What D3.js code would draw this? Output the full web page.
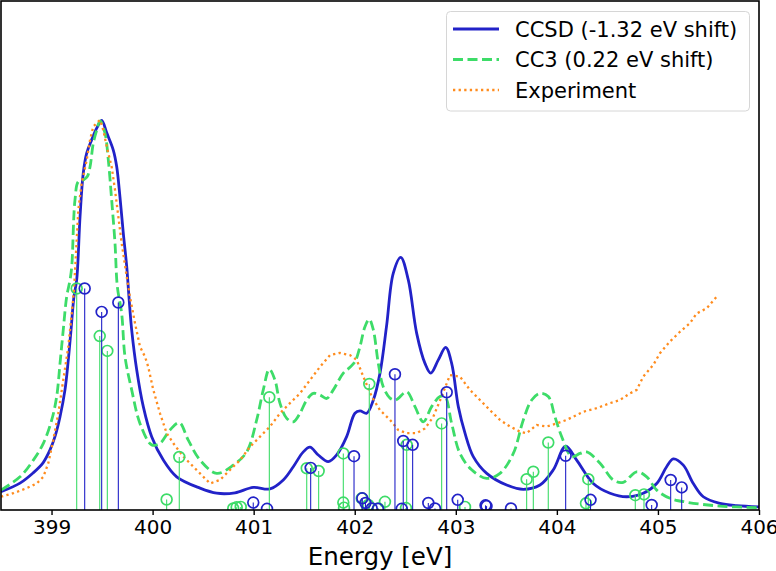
<!DOCTYPE html>
<html><head><meta charset="utf-8">
<script src="https://cdn.jsdelivr.net/npm/d3@7"></script>
<style>
html,body{margin:0;padding:0;background:#fff;}
svg{display:block;font-family:"DejaVu Sans",sans-serif;}
</style></head>
<body><svg id="c" width="776" height="571"></svg>
<script>
// ---- data (energy in eV, intensity arbitrary) ----
const xTicks = [399, 400, 401, 402, 403, 404, 405, 406];
const xLabel = "Energy [eV]";
const seriesNames = ["CCSD (-1.32 eV shift)", "CC3 (0.22 eV shift)", "Experiment"];

const ccsdE = [398.500,398.688,398.817,398.916,398.985,399.034,399.084,399.133,399.163,399.193,399.222,399.249,399.282,399.314,399.348,399.397,399.447,399.496,399.546,399.611,399.645,399.677,399.710,399.744,399.766,399.793,399.843,399.908,399.991,400.106,400.238,400.469,400.634,400.815,400.996,401.161,401.293,401.392,401.491,401.557,401.639,401.738,401.821,401.920,402.002,402.052,402.118,402.184,402.250,402.316,402.381,402.455,402.530,402.613,402.695,402.752,402.827,402.900,402.959,403.025,403.091,403.173,403.306,403.503,403.668,403.833,403.965,404.087,404.196,404.360,404.526,404.691,404.855,404.988,405.086,405.152,405.251,405.350,405.449,405.614,405.779,406.000];
const ccsdI = [0.047,0.069,0.095,0.121,0.154,0.188,0.239,0.308,0.377,0.462,0.547,0.590,0.752,0.864,0.915,0.949,0.979,0.999,0.967,0.923,0.880,0.803,0.710,0.624,0.547,0.462,0.359,0.265,0.188,0.128,0.085,0.056,0.043,0.044,0.058,0.054,0.077,0.111,0.149,0.161,0.141,0.124,0.141,0.188,0.248,0.254,0.248,0.282,0.351,0.474,0.607,0.648,0.590,0.453,0.376,0.351,0.385,0.417,0.376,0.265,0.197,0.137,0.094,0.064,0.053,0.064,0.103,0.164,0.128,0.068,0.043,0.034,0.043,0.068,0.111,0.131,0.115,0.068,0.034,0.017,0.011,0.008];

const cc3E = [398.500,398.688,398.820,398.919,399.002,399.051,399.084,399.116,399.150,399.183,399.200,399.232,399.265,399.314,399.354,399.381,399.413,399.447,399.480,399.529,399.562,399.595,399.628,399.651,399.694,399.727,399.793,399.875,399.991,400.073,400.172,400.264,400.353,400.469,400.634,400.798,400.931,401.030,401.095,401.155,401.211,401.260,401.327,401.392,401.458,401.525,401.590,401.656,401.723,401.788,401.887,401.953,402.002,402.052,402.101,402.144,402.184,402.233,402.282,402.349,402.405,402.514,402.596,402.678,402.761,402.843,402.893,402.959,403.041,403.157,403.306,403.437,403.569,403.668,403.751,403.833,403.915,403.981,404.048,404.147,404.229,404.295,404.427,404.558,404.657,404.790,404.889,404.988,405.119,405.284,405.614,406.000];
const cc3I = [0.051,0.085,0.128,0.171,0.231,0.291,0.376,0.462,0.547,0.590,0.624,0.795,0.842,0.846,0.855,0.880,0.940,0.974,0.998,0.966,0.897,0.795,0.684,0.573,0.504,0.393,0.308,0.222,0.167,0.171,0.205,0.224,0.179,0.128,0.094,0.115,0.149,0.231,0.308,0.361,0.333,0.274,0.235,0.226,0.248,0.282,0.299,0.295,0.286,0.308,0.351,0.366,0.380,0.419,0.470,0.489,0.462,0.376,0.316,0.287,0.282,0.303,0.265,0.226,0.265,0.291,0.291,0.222,0.145,0.103,0.081,0.094,0.145,0.231,0.282,0.299,0.291,0.239,0.188,0.137,0.145,0.149,0.120,0.077,0.071,0.098,0.085,0.051,0.030,0.020,0.010,0.006];

const expE = [398.500,398.622,398.754,398.853,398.919,398.968,399.017,399.067,399.116,399.166,399.200,399.222,399.265,399.298,399.348,399.381,399.413,399.447,399.480,399.512,399.546,399.595,399.628,399.661,399.694,399.744,399.776,399.826,399.875,399.925,399.957,400.007,400.073,400.139,400.205,400.304,400.403,400.469,400.568,400.667,400.766,400.865,400.964,401.063,401.162,401.260,401.359,401.458,401.557,401.656,401.755,401.854,401.953,402.019,402.085,402.168,402.250,402.349,402.431,402.514,402.613,402.695,402.777,402.860,402.942,403.041,403.140,403.239,403.338,403.437,403.536,403.635,403.701,403.800,403.899,403.998,404.097,404.261,404.394,404.526,404.624,404.723,404.790,404.855,404.954,405.020,405.119,405.218,405.317,405.383,405.482,405.581];
const expI = [0.034,0.043,0.056,0.068,0.085,0.120,0.179,0.248,0.333,0.419,0.504,0.564,0.769,0.838,0.897,0.949,0.983,0.992,1.000,0.974,0.932,0.880,0.821,0.752,0.684,0.598,0.547,0.479,0.419,0.393,0.367,0.308,0.248,0.197,0.171,0.137,0.111,0.094,0.068,0.077,0.103,0.128,0.162,0.188,0.214,0.248,0.274,0.299,0.333,0.367,0.397,0.403,0.397,0.385,0.342,0.291,0.256,0.231,0.205,0.197,0.197,0.209,0.239,0.291,0.346,0.342,0.308,0.282,0.256,0.231,0.214,0.201,0.197,0.218,0.214,0.222,0.231,0.252,0.261,0.274,0.282,0.299,0.308,0.342,0.372,0.402,0.432,0.457,0.479,0.504,0.517,0.547];

const ccsdStickE = [399.328,399.496,399.661,400.996,401.132,401.564,401.993,402.075,402.106,402.168,402.230,402.398,402.465,402.480,402.573,402.728,402.794,402.910,403.019,403.294,403.304,403.546,404.087,404.333,404.938,405.126,405.235];
const ccsdStickI = [0.568,0.508,0.532,0.019,0.003,0.108,0.138,0.030,0.018,0.004,0.003,0.348,0.003,0.177,0.167,0.018,0.004,0.302,0.026,0.012,0.010,0.004,0.139,0.026,0.013,0.077,0.058];

const cc3StickE = [399.249,399.477,399.552,400.139,400.264,400.798,400.832,400.872,401.155,401.525,401.643,401.887,401.887,401.894,402.069,402.134,402.144,402.233,402.299,402.507,402.514,402.860,403.091,403.701,403.767,403.915,404.288,404.311,404.776,404.862];
const cc3StickI = [0.568,0.446,0.408,0.027,0.136,0.004,0.007,0.008,0.289,0.107,0.100,0.145,0.019,0.006,0.030,0.013,0.323,0.004,0.021,0.005,0.167,0.222,0.008,0.079,0.098,0.173,0.017,0.079,0.038,0.040];

// ---- layout ----
const L = 1, R = 759, T = 1, B = 510;
const blue = "#2222c8", green = "#3ddc68", orange = "#ff8c1e";

const svg = d3.select("#c");
const x = d3.scaleLinear().domain([398.5, 406]).range([L, R]);
const y = d3.scaleLinear().domain([0, 1.3]).range([B, 3]);

svg.append("defs").append("clipPath").attr("id","clip")
  .append("rect").attr("x",L).attr("y",T).attr("width",R-L).attr("height",B-T);

const g = svg.append("g").attr("clip-path","url(#clip)");

const zipper = (E,I) => E.map((e,i)=>[e,I[i]]);
const smooth = d3.line().x(d=>x(d[0])).y(d=>y(d[1])).curve(d3.curveCatmullRom.alpha(0.5));
const lin = d3.line().x(d=>x(d[0])).y(d=>y(d[1]));

function stems(E, I, col) {
  const s = g.append("g");
  s.selectAll("line").data(zipper(E,I)).join("line")
    .attr("x1",d=>x(d[0])).attr("x2",d=>x(d[0]))
    .attr("y1",y(0)).attr("y2",d=>y(d[1]))
    .attr("stroke",col).attr("stroke-width",1.1);
  s.selectAll("circle").data(zipper(E,I)).join("circle")
    .attr("cx",d=>x(d[0])).attr("cy",d=>y(d[1])).attr("r",5.4)
    .attr("fill","none").attr("stroke",col).attr("stroke-width",1.7);
}

g.append("path").datum(zipper(ccsdE,ccsdI)).attr("d",smooth)
  .attr("fill","none").attr("stroke",blue).attr("stroke-width",2.8);
g.append("path").datum(zipper(cc3E,cc3I)).attr("d",smooth)
  .attr("fill","none").attr("stroke",green).attr("stroke-width",2.8)
  .attr("stroke-dasharray","10,4.5");
g.append("path").datum(zipper(expE,expI)).attr("d",lin)
  .attr("fill","none").attr("stroke",orange).attr("stroke-width",2.3)
  .attr("stroke-dasharray","2.3,3.3");

stems(cc3StickE, cc3StickI, green);
stems(ccsdStickE, ccsdStickI, blue);

// frame
svg.append("rect").attr("x",L).attr("y",T).attr("width",R-L).attr("height",B-T)
  .attr("fill","none").attr("stroke","#000").attr("stroke-width",1.6);

// x axis
const ax = svg.append("g").attr("transform",`translate(0,${B})`)
  .call(d3.axisBottom(x).tickValues(xTicks).tickFormat(d3.format("d")).tickSize(5).tickPadding(5));
ax.select(".domain").remove();
ax.selectAll(".tick line").attr("stroke","#000").attr("stroke-width",1.4);
ax.selectAll(".tick text").attr("font-size",20).attr("fill","#000")
  .attr("font-family","DejaVu Sans");

svg.append("text").attr("x",(L+R)/2).attr("y",565).attr("text-anchor","middle")
  .attr("font-size",24.5).attr("fill","#000").text(xLabel);

// legend
const lg = svg.append("g");
lg.append("rect").attr("x",446.5).attr("y",11.5).attr("width",303).attr("height",99.5)
  .attr("rx",4).attr("fill","#fff").attr("fill-opacity",0.8)
  .attr("stroke","#d6d6d6").attr("stroke-width",1);
const legStyles = [
  {c:blue, dash:null, w:2.8},
  {c:green, dash:"10,4.5", w:2.8},
  {c:orange, dash:"2.3,3.3", w:2.3}
];
seriesNames.forEach((n,i)=>{
  const yy = 29 + i*30.5;
  const ln = lg.append("line").attr("x1",453).attr("x2",499).attr("y1",yy).attr("y2",yy)
    .attr("stroke",legStyles[i].c).attr("stroke-width",legStyles[i].w);
  if (legStyles[i].dash) ln.attr("stroke-dasharray",legStyles[i].dash);
  lg.append("text").attr("x",515).attr("y",yy+7.5).attr("font-size",21).attr("fill","#000").text(n);
});
</script>
</body></html>
